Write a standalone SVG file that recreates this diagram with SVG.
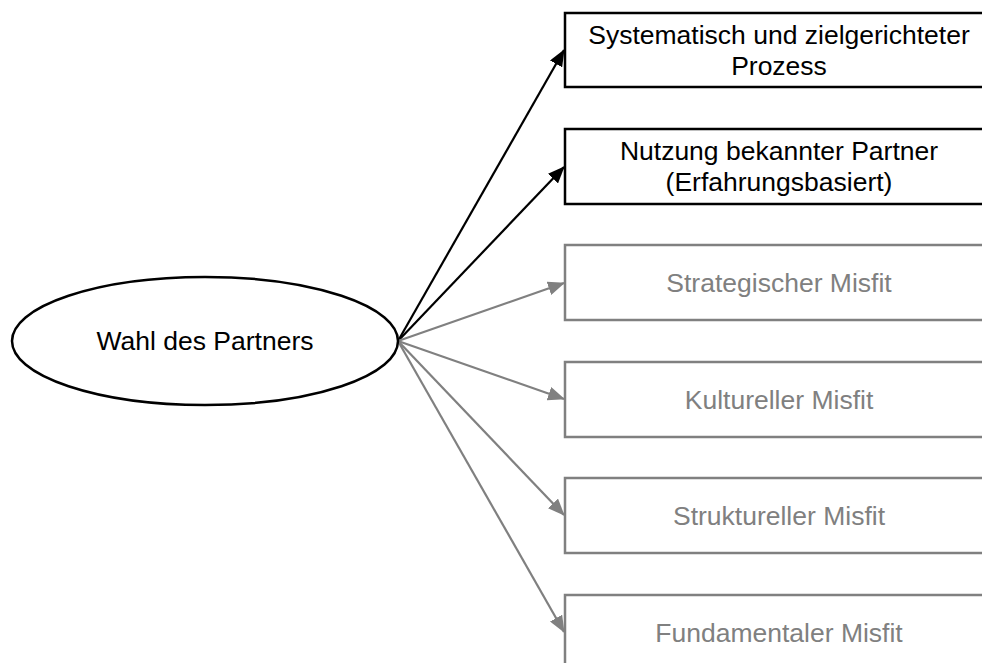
<svg xmlns="http://www.w3.org/2000/svg" width="982" height="663" viewBox="0 0 982 663">
  <style>
    text { font-family: "Liberation Sans", Arial, sans-serif; font-size: 26.5px; text-anchor: middle; }
    .dark { fill: #000; }
    .muted { fill: #808080; }
    .box-dark { fill: #fff; stroke: #000; stroke-width: 2.5; }
    .box-muted { fill: #fff; stroke: #808080; stroke-width: 2.5; }
    .link-dark { stroke: #000; stroke-width: 2.2; fill: none; marker-end: url(#head-dark); }
    .link-muted { stroke: #808080; stroke-width: 2.2; fill: none; marker-end: url(#head-muted); }
  </style>
  <defs>
    <marker id="head-dark" viewBox="0 0 17 14" refX="16" refY="7" markerWidth="17" markerHeight="14" markerUnits="userSpaceOnUse" orient="auto">
      <path d="M0,0 L17,7 L0,14 z" fill="#000" />
    </marker>
    <marker id="head-muted" viewBox="0 0 17 14" refX="16" refY="7" markerWidth="17" markerHeight="14" markerUnits="userSpaceOnUse" orient="auto">
      <path d="M0,0 L17,7 L0,14 z" fill="#808080" />
    </marker>
  </defs>
  <rect width="982" height="663" fill="#fff" />

  <g id="connectors">
    <line class="link-dark" x1="398" y1="341" x2="564" y2="50" />
    <line class="link-dark" x1="398" y1="341" x2="564" y2="167" />
    <line class="link-muted" x1="398" y1="341" x2="564" y2="283" />
    <line class="link-muted" x1="398" y1="341" x2="564" y2="399" />
    <line class="link-muted" x1="398" y1="341" x2="564" y2="515" />
    <line class="link-muted" x1="398" y1="341" x2="564" y2="632" />
  </g>

  <g id="wahl-des-partners">
    <ellipse cx="205" cy="341" rx="193" ry="64" fill="#fff" stroke="#000" stroke-width="2.5" />
    <text class="dark" x="205" y="350">Wahl des Partners</text>
  </g>

  <g id="systematisch">
    <rect class="box-dark" x="565" y="13" width="430" height="74" />
    <text class="dark" x="779" y="44">Systematisch und zielgerichteter</text>
    <text class="dark" x="779" y="75">Prozess</text>
  </g>

  <g id="bekannte-partner">
    <rect class="box-dark" x="565" y="129" width="430" height="75" />
    <text class="dark" x="779" y="160">Nutzung bekannter Partner</text>
    <text class="dark" x="779" y="191">(Erfahrungsbasiert)</text>
  </g>

  <g id="strategischer-misfit">
    <rect class="box-muted" x="565" y="245" width="430" height="75" />
    <text class="muted" x="779" y="292">Strategischer Misfit</text>
  </g>

  <g id="kultureller-misfit">
    <rect class="box-muted" x="565" y="362" width="430" height="75" />
    <text class="muted" x="779" y="409">Kultureller Misfit</text>
  </g>

  <g id="struktureller-misfit">
    <rect class="box-muted" x="565" y="478" width="430" height="75" />
    <text class="muted" x="779" y="525">Struktureller Misfit</text>
  </g>

  <g id="fundamentaler-misfit">
    <rect class="box-muted" x="565" y="595" width="430" height="75" />
    <text class="muted" x="779" y="642">Fundamentaler Misfit</text>
  </g>
</svg>
